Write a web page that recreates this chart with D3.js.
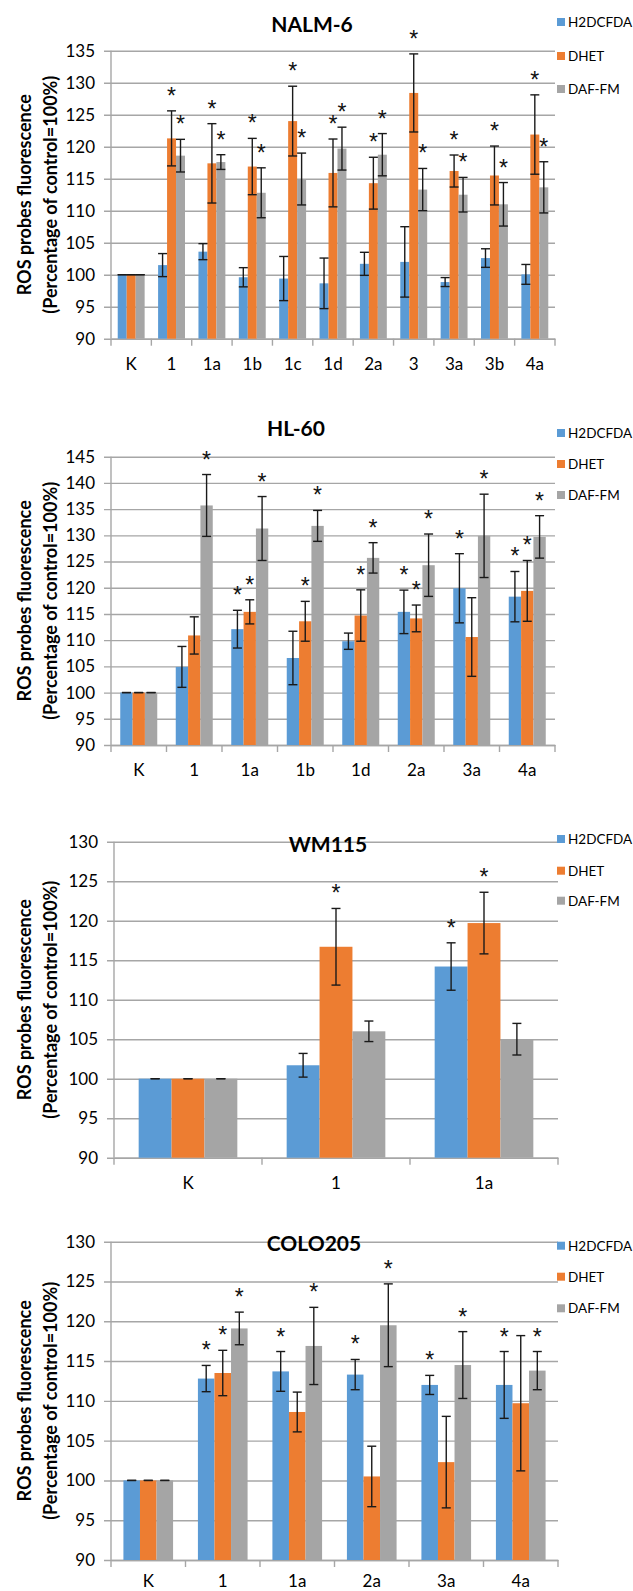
<!DOCTYPE html>
<html>
<head>
<meta charset="utf-8">
<script src="https://cdn.jsdelivr.net/npm/d3@7"></script>
<style>
  body { margin: 0; background: #fff; }
  svg text { font-family: Lato, "Open Sans", sans-serif; fill: #000; }
</style>
</head>
<body>
<svg id="chart" width="633" height="1591"></svg>
<script>
// series + colours
const seriesNames = ["H2DCFDA", "DHET", "DAF-FM"];
const seriesColors = ["#5B9BD5", "#ED7D31", "#A5A5A5"];

// NALM-6
const nalmCats = ["K", "1", "1a", "1b", "1c", "1d", "2a", "3", "3a", "3b", "4a"];
const nalmH2 = [100, 101.5, 103.6, 99.6, 99.4, 98.65, 101.7, 102.0, 98.85, 102.6, 100.05];
const nalmH2Err = [0, 1.8, 1.25, 1.5, 3.45, 3.95, 1.8, 5.5, 0.7, 1.45, 1.55];
const nalmDhet = [100, 121.3, 117.4, 116.9, 124.0, 115.9, 114.3, 128.4, 116.2, 115.5, 121.9];
const nalmDhetErr = [0, 4.3, 6.2, 4.4, 5.45, 5.3, 4.05, 6.1, 2.5, 4.6, 6.2];
const nalmDaf = [100, 118.6, 117.6, 112.8, 114.95, 119.7, 118.75, 113.3, 112.5, 111.0, 113.65];
const nalmDafErr = [0, 2.55, 1.15, 3.9, 4.05, 3.35, 3.3, 3.3, 2.7, 3.4, 4.0];
const nalmH2Sig = [0, 0, 0, 0, 0, 0, 0, 0, 0, 0, 0];
const nalmDhetSig = [0, 1, 1, 1, 1, 1, 1, 1, 1, 1, 1];
const nalmDafSig = [0, 1, 1, 1, 1, 1, 1, 1, 1, 1, 1];
const nalmTicks = [90, 95, 100, 105, 110, 115, 120, 125, 130, 135];

// HL-60
const hlCats = ["K", "1", "1a", "1b", "1d", "2a", "3a", "4a"];
const hlH2 = [100, 104.9, 112.1, 106.6, 109.8, 115.4, 119.9, 118.3];
const hlH2Err = [0, 3.9, 3.6, 5.1, 1.55, 4.15, 6.6, 4.8];
const hlDhet = [100, 110.9, 115.4, 113.6, 114.7, 114.15, 110.6, 119.4];
const hlDhetErr = [0, 3.55, 2.3, 3.8, 4.9, 2.55, 7.5, 5.8];
const hlDaf = [100, 135.7, 131.3, 131.8, 125.7, 124.3, 129.9, 129.7];
const hlDafErr = [0, 5.9, 6.1, 2.95, 2.9, 5.95, 7.95, 4.05];
const hlH2Sig = [0, 0, 1, 0, 0, 1, 1, 1];
const hlDhetSig = [0, 0, 1, 1, 1, 1, 0, 1];
const hlDafSig = [0, 1, 1, 1, 1, 1, 1, 1];
const hlTicks = [90, 95, 100, 105, 110, 115, 120, 125, 130, 135, 140, 145];

// WM115
const wmCats = ["K", "1", "1a"];
const wmH2 = [100, 101.7, 114.2];
const wmH2Err = [0, 1.5, 3.0];
const wmDhet = [100, 116.7, 119.7];
const wmDhetErr = [0, 4.85, 3.9];
const wmDaf = [100, 106.0, 105.0];
const wmDafErr = [0, 1.3, 2.0];
const wmH2Sig = [0, 0, 1];
const wmDhetSig = [0, 1, 1];
const wmDafSig = [0, 0, 0];
const wmTicks = [90, 95, 100, 105, 110, 115, 120, 125, 130];

// COLO205
const coloCats = ["K", "1", "1a", "2a", "3a", "4a"];
const coloH2 = [100, 112.8, 113.7, 113.3, 112.0, 112.0];
const coloH2Err = [0, 1.65, 2.5, 1.9, 1.2, 4.2];
const coloDhet = [100, 113.5, 108.6, 100.5, 102.3, 109.7];
const coloDhetErr = [0, 2.85, 2.5, 3.8, 5.75, 8.5];
const coloDaf = [100, 119.1, 116.9, 119.5, 114.5, 113.8];
const coloDafErr = [0, 2.05, 4.85, 5.2, 4.2, 2.4];
const coloH2Sig = [0, 1, 1, 1, 1, 1];
const coloDhetSig = [0, 1, 0, 0, 0, 0];
const coloDafSig = [0, 1, 1, 1, 1, 1];
const coloTicks = [90, 95, 100, 105, 110, 115, 120, 125, 130];

const svg = d3.select("#chart");

function drawPanel(title, cats, vals, errs, sigs, ticks, box) {
    const g = svg.append("g");
    const x0 = d3.scaleBand()
        .domain(cats)
        .range([box.left, box.right])
        .paddingInner(1 / 3)
        .paddingOuter(1 / 6);
    const x1 = d3.scaleBand()
        .domain([0, 1, 2])
        .range([0, x0.bandwidth()]);
    const y = d3.scaleLinear()
        .domain([d3.min(ticks), d3.max(ticks)])
        .range([box.bottom, box.top]);

    // gridlines + y labels (outer tick of 7px)
    const yAxis = g.append("g")
        .attr("transform", "translate(" + (box.left - 7) + ",0)")
        .call(d3.axisLeft(y)
            .tickValues(ticks)
            .tickSizeInner(-(box.right - box.left + 7))
            .tickSizeOuter(0)
            .tickPadding(9));
    yAxis.select(".domain").remove();
    yAxis.selectAll("line").attr("stroke", "#a6a6a6").attr("stroke-width", 1.4);
    yAxis.selectAll("text").attr("font-size", 17).attr("font-family", "Lato");

    // vertical axis line
    g.append("line")
        .attr("x1", box.left).attr("x2", box.left)
        .attr("y1", box.top).attr("y2", box.bottom)
        .attr("stroke", "#a6a6a6").attr("stroke-width", 1.4);

    // x labels
    const xAxis = g.append("g")
        .attr("transform", "translate(0," + box.bottom + ")")
        .call(d3.axisBottom(x0).tickSize(0).tickPadding(box.labelPad));
    xAxis.select(".domain").attr("stroke", "#a6a6a6").attr("stroke-width", 1.4);
    xAxis.selectAll("text").attr("font-size", 17).attr("font-family", "Lato");

    // category boundary ticks
    g.selectAll(".bt")
        .data(d3.range(cats.length + 1))
        .enter()
        .append("line")
        .attr("x1", function(i) { return box.left + i * x0.step(); })
        .attr("x2", function(i) { return box.left + i * x0.step(); })
        .attr("y1", box.bottom)
        .attr("y2", box.bottom + 7)
        .attr("stroke", "#a6a6a6").attr("stroke-width", 1.4);

    // flatten into rows
    const rows = [];
    cats.forEach(function(c, i) {
        for (let s = 0; s < 3; s++) {
            rows.push({cat: c, s: s, v: vals[s][i], e: errs[s][i], sig: sigs[s][i]});
        }
    });
    const cx = function(d) { return x0(d.cat) + x1(d.s) + x1.bandwidth() / 2; };

    g.selectAll(".bar")
        .data(rows)
        .enter()
        .append("rect")
        .attr("x", function(d) { return x0(d.cat) + x1(d.s); })
        .attr("width", x1.bandwidth())
        .attr("y", function(d) { return y(d.v); })
        .attr("height", function(d) { return box.bottom - y(d.v); })
        .attr("fill", function(d) { return seriesColors[d.s]; });

    // error bars
    const eb = g.selectAll(".err")
        .data(rows)
        .enter()
        .append("g")
        .attr("stroke", "#1a1a1a")
        .attr("stroke-width", 1.4);
    eb.append("line")
        .attr("x1", cx).attr("x2", cx)
        .attr("y1", function(d) { return y(d.v + d.e); })
        .attr("y2", function(d) { return y(d.v - d.e); });
    eb.append("line")
        .attr("x1", function(d) { return cx(d) - 4.5; })
        .attr("x2", function(d) { return cx(d) + 4.5; })
        .attr("y1", function(d) { return y(d.v + d.e); })
        .attr("y2", function(d) { return y(d.v + d.e); });
    eb.append("line")
        .attr("x1", function(d) { return cx(d) - 4.5; })
        .attr("x2", function(d) { return cx(d) + 4.5; })
        .attr("y1", function(d) { return y(d.v - d.e); })
        .attr("y2", function(d) { return y(d.v - d.e); });

    // significance stars
    g.selectAll(".star")
        .data(rows.filter(function(d) { return d.sig; }))
        .enter()
        .append("text")
        .attr("x", cx)
        .attr("y", function(d) { return y(d.v + d.e) - 7; })
        .attr("text-anchor", "middle")
        .style("font-family", "'Liberation Sans', Arial, sans-serif")
        .style("fill", "#111")
        .attr("font-size", 23)
        .text("*");

    // title
    g.append("text")
        .attr("x", box.titleX)
        .attr("y", box.titleY + 7.5)
        .attr("text-anchor", "middle")
        .attr("font-size", 21)
        .attr("font-weight", "bold")
        .text(title);

    // y axis title
    const yc = (box.top + box.bottom) / 2;
    g.append("text")
        .attr("transform", "translate(31," + yc + ") rotate(-90)")
        .attr("text-anchor", "middle")
        .attr("font-size", 18)
        .attr("font-weight", "bold")
        .text("ROS probes fluorescence");
    g.append("text")
        .attr("transform", "translate(57," + yc + ") rotate(-90)")
        .attr("text-anchor", "middle")
        .attr("font-size", 18)
        .attr("font-weight", "bold")
        .text("(Percentage of control=100%)");

    // legend
    const lg = g.selectAll(".leg")
        .data(seriesNames)
        .enter()
        .append("g")
        .attr("transform", function(d, i) { return "translate(557," + box.legendY[i] + ")"; });
    lg.append("rect")
        .attr("x", 0).attr("y", -4)
        .attr("width", 8).attr("height", 8)
        .attr("fill", function(d, i) { return seriesColors[i]; });
    lg.append("text")
        .attr("x", 11).attr("y", 5)
        .attr("font-size", 13.5)
        .text(function(d) { return d; });
}

drawPanel("NALM-6", nalmCats,
    [nalmH2, nalmDhet, nalmDaf], [nalmH2Err, nalmDhetErr, nalmDafErr],
    [nalmH2Sig, nalmDhetSig, nalmDafSig], nalmTicks,
    {top: 50.7, bottom: 338.7, left: 111, right: 555, titleX: 312, titleY: 24, legendY: [22, 56, 89], labelPad: 19});

drawPanel("HL-60", hlCats,
    [hlH2, hlDhet, hlDaf], [hlH2Err, hlDhetErr, hlDafErr],
    [hlH2Sig, hlDhetSig, hlDafSig], hlTicks,
    {top: 456.7, bottom: 745, left: 111, right: 555, titleX: 296, titleY: 428, legendY: [433, 464, 495], labelPad: 19});

drawPanel("WM115", wmCats,
    [wmH2, wmDhet, wmDaf], [wmH2Err, wmDhetErr, wmDafErr],
    [wmH2Sig, wmDhetSig, wmDafSig], wmTicks,
    {top: 841.7, bottom: 1157.7, left: 114, right: 558, titleX: 328, titleY: 844, legendY: [839, 870.7, 900.7], labelPad: 19});

drawPanel("COLO205", coloCats,
    [coloH2, coloDhet, coloDaf], [coloH2Err, coloDhetErr, coloDafErr],
    [coloH2Sig, coloDhetSig, coloDafSig], coloTicks,
    {top: 1241.7, bottom: 1560, left: 111, right: 558, titleX: 314, titleY: 1243.5, legendY: [1245.7, 1276.7, 1308.3], labelPad: 15});
</script>
</body>
</html>
